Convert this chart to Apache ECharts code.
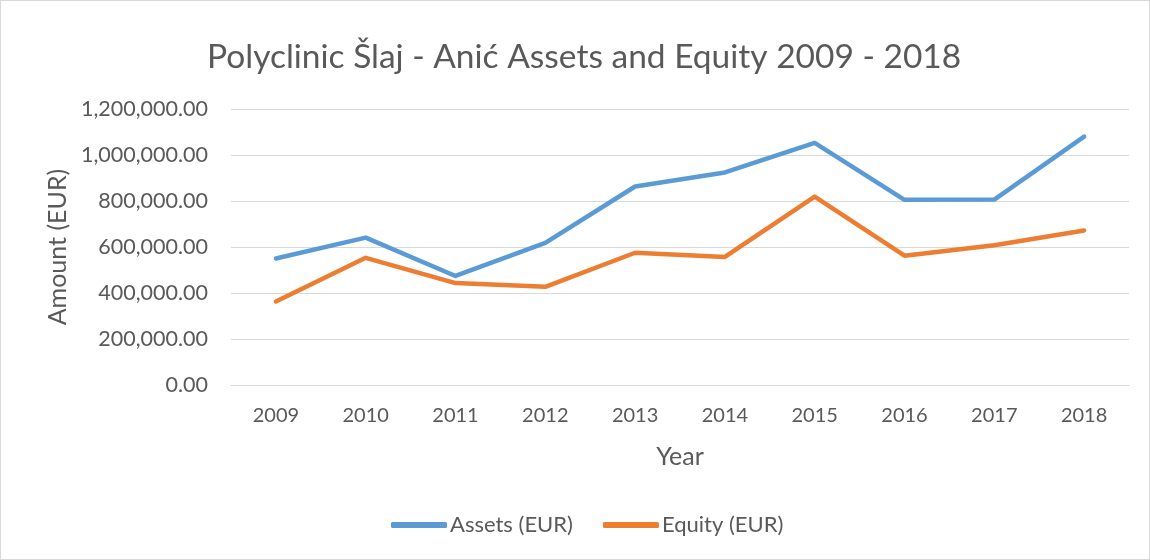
<!DOCTYPE html>
<html>
<head>
<meta charset="utf-8">
<script src="https://cdn.jsdelivr.net/npm/echarts@6/dist/echarts.min.js"></script>
<style>
  html, body { margin: 0; padding: 0; background: #fff; }
  #chart { width: 1150px; height: 560px; box-sizing: border-box; border: 1px solid #d9d9d9; }
</style>
</head>
<body>
<div id="chart"></div>
<script>
// values
const years = ['2009', '2010', '2011', '2012', '2013', '2014', '2015', '2016', '2017', '2018']
const assets = [550000, 641000, 474000, 618000, 863000, 924000, 1053000, 805000, 806000, 1080000]
const equity = [363000, 553000, 443000, 427000, 575000, 557000, 819000, 562000, 608000, 672000]

const font = 'Lato, "Open Sans", sans-serif'
const textColor = '#595959'

const fmt = v => v.toLocaleString('en-US', { minimumFractionDigits: 2, maximumFractionDigits: 2 })

const myChart = echarts.init(document.getElementById('chart'))

const option = {
  animation: false,
  title: {
    text: 'Polyclinic Šlaj - Anić Assets and Equity 2009 - 2018',
    left: 201,
    top: 34,
    textStyle: { fontFamily: font, fontSize: 33.5, fontWeight: 'normal', color: textColor }
  },
  legend: {
    bottom: 18,
    left: 385,
    itemWidth: 56,
    itemHeight: 6,
    itemGap: 30,
    icon: 'roundRect',
    textStyle: { fontFamily: font, fontSize: 22, color: textColor, padding: [0, 0, 0, -2] },
    data: ['Assets (EUR)', 'Equity (EUR)']
  },
  grid: { left: 230, right: 20, top: 108, bottom: 174, containLabel: false },
  xAxis: {
    type: 'category',
    data: years,
    name: 'Year',
    nameLocation: 'middle',
    nameGap: 59,
    nameTextStyle: { fontFamily: font, fontSize: 25, color: textColor },
    axisLine: { lineStyle: { color: '#d9d9d9', width: 1 } },
    axisTick: { show: false },
    axisLabel: { fontFamily: font, fontSize: 20, color: textColor, margin: 21 }
  },
  yAxis: {
    type: 'value',
    min: 0,
    max: 1200000,
    interval: 200000,
    name: 'Amount (EUR)',
    nameLocation: 'middle',
    nameGap: 160,
    nameTextStyle: { fontFamily: font, fontSize: 25, color: textColor },
    axisLine: { show: false },
    axisTick: { show: false },
    splitLine: { lineStyle: { color: '#d9d9d9', width: 1 } },
    axisLabel: { fontFamily: font, fontSize: 21.5, color: textColor, margin: 23, formatter: fmt }
  },
  series: [
    {
      name: 'Assets (EUR)',
      type: 'line',
      data: assets,
      symbol: 'none',
      color: '#5B9BD5',
      lineStyle: { width: 4.5, cap: 'round', join: 'round' }
    },
    {
      name: 'Equity (EUR)',
      type: 'line',
      data: equity,
      symbol: 'none',
      color: '#ED7D31',
      lineStyle: { width: 4.5, cap: 'round', join: 'round' }
    }
  ]
}

myChart.setOption(option)
</script>
</body>
</html>
